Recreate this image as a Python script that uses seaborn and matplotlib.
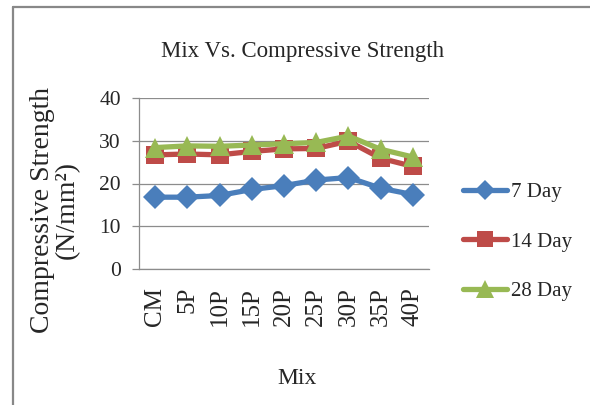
import matplotlib
matplotlib.use("Agg")
import matplotlib.pyplot as plt
import seaborn as sns
from matplotlib.lines import Line2D

# values
mix = ["CM", "5P", "10P", "15P", "20P", "25P", "30P", "35P", "40P"]
day7 = [16.8, 16.8, 17.2, 18.6, 19.5, 20.8, 21.4, 18.9, 17.4]
day14 = [26.7, 26.9, 26.7, 27.5, 28.1, 28.2, 29.9, 25.9, 24.0]
day28 = [28.4, 28.8, 28.7, 29.0, 29.3, 29.6, 31.1, 28.0, 26.2]
y_ticks = [0, 10, 20, 30, 40]

sns.set_style("white")
plt.rcParams['font.family'] = ['Liberation Serif', 'DejaVu Serif']

fig = plt.figure(figsize=(5.9, 4.05), dpi=100)
ax = fig.add_axes([139 / 590, 1 - 269 / 405, 290 / 590, 171 / 405])

series = [
    ("7 Day", day7, "#4A7EBB", "D", 12),
    ("14 Day", day14, "#BE4B48", "s", 13),
    ("28 Day", day28, "#98B954", "^", 15),
]
for label, vals, color, marker, ms in series:
    sns.lineplot(x=mix, y=vals, sort=False, ax=ax, color=color, lw=3.8,
                 marker=marker, markersize=ms, markeredgewidth=0,
                 label=label, legend=False)

ax.set_xlim(-0.5, 8.5)
ax.set_ylim(0, 40)
ax.set_yticks(y_ticks)
ax.yaxis.grid(True, color="#8c8c8c", lw=0.9)
ax.set_axisbelow(True)
for side in ["top", "right"]:
    ax.spines[side].set_visible(False)
for side in ["left", "bottom"]:
    ax.spines[side].set_color("#8c8c8c")
    ax.spines[side].set_linewidth(0.9)

ax.tick_params(axis="y", which="both", left=True, length=5, width=0.9,
               color="#8c8c8c", labelsize=15.5, pad=8)
ax.tick_params(axis="x", length=0, labelsize=18, pad=13)
for t in ax.get_xticklabels():
    t.set_rotation(90)
ax.set_xlabel("")
ax.set_ylabel("")

fig.text(303 / 590, 1 - 57 / 405, "Mix Vs. Compressive Strength",
         ha="center", va="baseline", fontsize=16.5)
fig.text(297 / 590, 1 - 379 / 405, "Mix", ha="center", va="center", fontsize=17)
fig.text(55 / 590, 1 - 210 / 405, "Compressive Strength\n(N/mm²)",
         ha="center", va="center", rotation=90, multialignment="center",
         fontsize=20, linespacing=0.95)

handles = [Line2D([], [], color=c, lw=3.8, marker=m, markersize=s * 0.85,
                  markeredgewidth=0) for _, _, c, m, s in series]
fig.legend(handles, [s[0] for s in series], loc="upper left",
           bbox_to_anchor=(455 / 590, 1 - 174 / 405), frameon=False,
           fontsize=15, handlelength=2.1, handletextpad=0.2,
           labelspacing=1.45, borderaxespad=0)

# outer frame (left and top edges visible in the reference)
fig.add_artist(Line2D([13 / 590, 13 / 590], [0, 1 - 7 / 405],
                      transform=fig.transFigure, color="#888888", lw=1.6))
fig.add_artist(Line2D([13 / 590, 1], [1 - 7 / 405, 1 - 7 / 405],
                      transform=fig.transFigure, color="#888888", lw=1.6))

fig.savefig("out.png", dpi=100)
plt.close(fig)
